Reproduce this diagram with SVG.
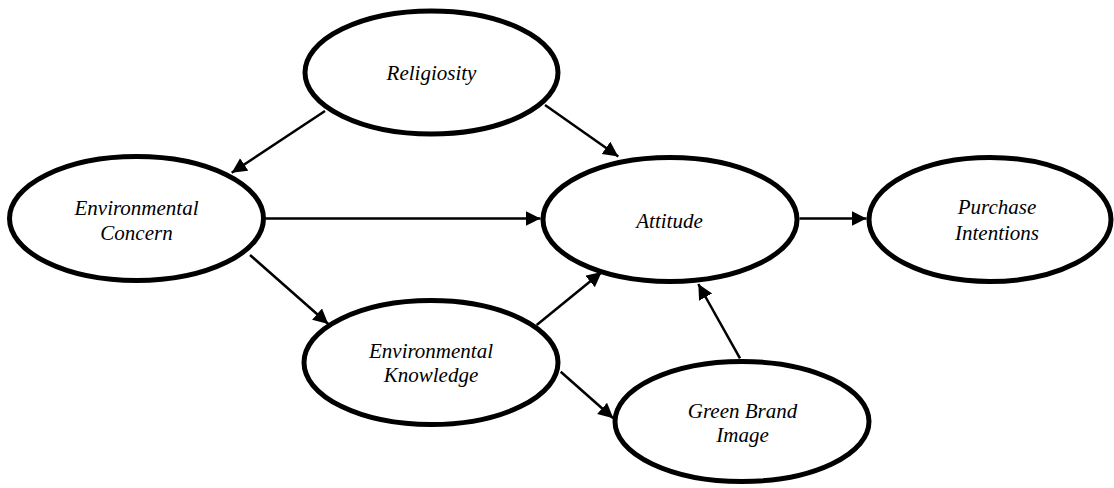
<svg xmlns="http://www.w3.org/2000/svg" width="1114" height="488" viewBox="0 0 1114 488">
<style>
.node{fill:#fff;stroke:#000;stroke-width:5}
.lbl{font-family:"Liberation Serif","Times New Roman",serif;font-style:italic;font-size:21px;fill:#000;text-anchor:middle}
.edge{stroke:#000;stroke-width:2.5;fill:none;marker-end:url(#ah)}
</style>
<defs>
<marker id="ah" markerUnits="userSpaceOnUse" markerWidth="16" markerHeight="16" refX="15" refY="7.5" orient="auto">
<path d="M0,0 L15,7.5 L0,15 z" fill="#000"/>
</marker>
</defs>
<rect width="1114" height="488" fill="#fff"/>
<g id="religiosity">
<ellipse class="node" cx="431.5" cy="72.5" rx="126.5" ry="61.5"/>
<text class="lbl" x="431.5" y="80">Religiosity</text>
</g>
<g id="environmental-concern">
<ellipse class="node" cx="136.5" cy="218.5" rx="127" ry="62"/>
<text class="lbl" x="136.5" y="215">Environmental</text>
<text class="lbl" x="136.5" y="239.5">Concern</text>
</g>
<g id="attitude">
<ellipse class="node" cx="670" cy="219.5" rx="127" ry="62"/>
<text class="lbl" x="669.5" y="228">Attitude</text>
</g>
<g id="purchase-intentions">
<ellipse class="node" cx="990" cy="219.5" rx="121" ry="62"/>
<text class="lbl" x="997" y="214">Purchase</text>
<text class="lbl" x="997" y="239.5">Intentions</text>
</g>
<g id="environmental-knowledge">
<ellipse class="node" cx="431" cy="362.5" rx="127" ry="62"/>
<text class="lbl" x="431" y="357.5">Environmental</text>
<text class="lbl" x="431" y="382">Knowledge</text>
</g>
<g id="green-brand-image">
<ellipse class="node" cx="742" cy="421.5" rx="127" ry="60"/>
<text class="lbl" x="742.5" y="417.5">Green Brand</text>
<text class="lbl" x="742.5" y="442">Image</text>
</g>
<g id="connectors">
<line class="edge" x1="325" y1="111" x2="231.7" y2="172.7"/>
<line class="edge" x1="545" y1="105" x2="618.3" y2="156.5"/>
<line class="edge" x1="266" y1="218.5" x2="540.5" y2="218.5"/>
<line class="edge" x1="799.5" y1="218.5" x2="866.5" y2="218.5"/>
<line class="edge" x1="250" y1="255" x2="328.3" y2="324"/>
<line class="edge" x1="536.7" y1="325" x2="601.7" y2="272"/>
<line class="edge" x1="560.7" y1="371.7" x2="613.3" y2="418.3"/>
<line class="edge" x1="740" y1="358.3" x2="698.3" y2="284"/>
</g>
</svg>
